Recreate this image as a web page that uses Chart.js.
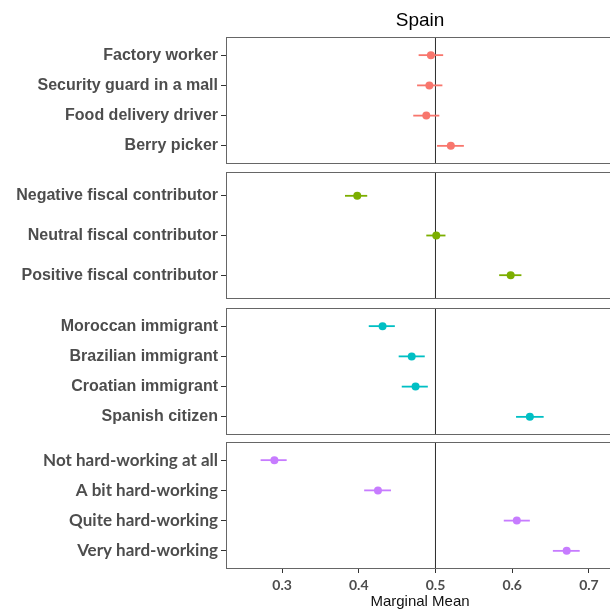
<!DOCTYPE html>
<html>
<head>
<meta charset="utf-8">
<script src="https://cdn.jsdelivr.net/npm/chart.js@4.4.1/dist/chart.umd.min.js"></script>
<style>
  html, body { margin: 0; padding: 0; background: #fff; width: 610px; height: 615px; overflow: hidden; }
  canvas { position: absolute; left: 0; }
</style>
</head>
<body>
<canvas id="panelJob" width="614" height="164" style="top:0"></canvas>
<canvas id="panelFiscal" width="614" height="127" style="top:172px"></canvas>
<canvas id="panelOrigin" width="614" height="127" style="top:308px"></canvas>
<canvas id="panelEffort" width="614" height="173" style="top:442px"></canvas>
<script>
// Marginal means with 95% intervals, one array per attribute
const jobLabels = ['Factory worker', 'Security guard in a mall', 'Food delivery driver', 'Berry picker'];
const jobMean = [0.494, 0.492, 0.488, 0.520];
const jobLow = [0.478, 0.476, 0.471, 0.502];
const jobHigh = [0.510, 0.509, 0.505, 0.537];

const fiscalLabels = ['Negative fiscal contributor', 'Neutral fiscal contributor', 'Positive fiscal contributor'];
const fiscalMean = [0.398, 0.501, 0.598];
const fiscalLow = [0.382, 0.488, 0.583];
const fiscalHigh = [0.411, 0.513, 0.612];

const originLabels = ['Moroccan immigrant', 'Brazilian immigrant', 'Croatian immigrant', 'Spanish citizen'];
const originMean = [0.431, 0.469, 0.474, 0.623];
const originLow = [0.413, 0.452, 0.456, 0.605];
const originHigh = [0.447, 0.486, 0.490, 0.641];

const effortLabels = ['Not hard-working at all', 'A bit hard-working', 'Quite hard-working', 'Very hard-working'];
const effortMean = [0.290, 0.425, 0.606, 0.671];
const effortLow = [0.272, 0.407, 0.589, 0.653];
const effortHigh = [0.306, 0.442, 0.623, 0.688];

const xTicks = [0.3, 0.4, 0.5, 0.6, 0.7];
const refValue = 0.5;
const xMin = 0.2269;
const xMax = 0.7327;

const AXIS_GREY = '#4d4d4d';

const panelFrame = {
  id: 'panelFrame',
  afterDatasetsDraw(chart) {
    const { ctx, chartArea: a } = chart;
    ctx.save();
    ctx.strokeStyle = '#666';
    ctx.lineWidth = 1;
    ctx.strokeRect(a.left + 0.5, a.top + 0.5, a.right - a.left - 1, a.bottom - a.top - 1);
    ctx.restore();
  }
};

function makePanel(id, labels, mean, low, high, color, opts) {
  const n = labels.length;
  const datasets = [{
    data: mean.map((m, i) => ({ x: m, y: i + 1 })),
    backgroundColor: color,
    borderWidth: 0,
    pointRadius: 4,
    pointHoverRadius: 4
  }];
  labels.forEach((_, i) => {
    datasets.push({
      data: [{ x: low[i], y: i + 1 }, { x: high[i], y: i + 1 }],
      showLine: true,
      borderColor: color,
      borderWidth: 1.8,
      pointRadius: 0
    });
  });
  datasets.push({
    data: [{ x: refValue, y: 0.4 }, { x: refValue, y: n + 0.6 }],
    showLine: true,
    borderColor: '#333',
    borderWidth: 1,
    pointRadius: 0
  });

  let xAxis = {
    type: 'linear', min: xMin, max: xMax, display: false,
    afterBuildTicks: s => { s.ticks = xTicks.map(v => ({ value: v })); }
  };
  if (opts.title) {
    xAxis = Object.assign(xAxis, {
      display: true, position: 'top',
      ticks: { display: false },
      grid: { display: false },
      border: { display: false },
      title: { display: true, text: opts.title, color: '#000', padding: { top: 9, bottom: 0 },
               font: { family: 'Liberation Sans', size: 19 } },
      afterFit: s => { s.height = 37; s.paddingLeft = 0; s.paddingRight = 0; }
    });
  }
  if (opts.xTitle) {
    xAxis = Object.assign(xAxis, {
      display: true, position: 'bottom',
      ticks: { color: AXIS_GREY, padding: 4, maxRotation: 0,
               font: { family: 'Lato', size: 14, weight: 'bold' } },
      grid: { drawOnChartArea: false, tickLength: 4, color: '#333' },
      border: { display: false },
      title: { display: true, text: opts.xTitle, color: '#111', padding: { top: 0, bottom: 4 },
               font: { family: 'Liberation Sans', size: 15 } },
      afterFit: s => { s.height = 46; s.paddingLeft = 0; s.paddingRight = 0; }
    });
  }

  new Chart(document.getElementById(id), {
    type: 'scatter',
    data: { datasets },
    options: {
      responsive: false,
      animation: false,
      events: [],
      layout: { padding: 0, autoPadding: false },
      plugins: { legend: { display: false }, tooltip: { enabled: false } },
      scales: {
        x: xAxis,
        y: {
          type: 'linear', reverse: true, min: 0.4, max: n + 0.6,
          afterBuildTicks: s => { s.ticks = labels.map((_, i) => ({ value: i + 1 })); },
          afterFit: s => { s.width = 226; s.paddingTop = 0; s.paddingBottom = 0; },
          ticks: {
            callback: v => labels[Math.round(v) - 1],
            color: AXIS_GREY, padding: 3, autoSkip: false,
            font: { family: opts.labelFont || 'Liberation Sans', size: opts.labelSize || 16, weight: 'bold' }
          },
          grid: { drawOnChartArea: false, tickLength: 5, color: '#333' },
          border: { display: false }
        }
      }
    },
    plugins: [panelFrame]
  });
}

makePanel('panelJob', jobLabels, jobMean, jobLow, jobHigh, '#F8766D', { title: 'Spain' });
makePanel('panelFiscal', fiscalLabels, fiscalMean, fiscalLow, fiscalHigh, '#7CAE00', {});
makePanel('panelOrigin', originLabels, originMean, originLow, originHigh, '#00BFC4', {});
makePanel('panelEffort', effortLabels, effortMean, effortLow, effortHigh, '#C77CFF',
  { xTitle: 'Marginal Mean', labelFont: 'Lato', labelSize: 17 });
</script>
</body>
</html>
